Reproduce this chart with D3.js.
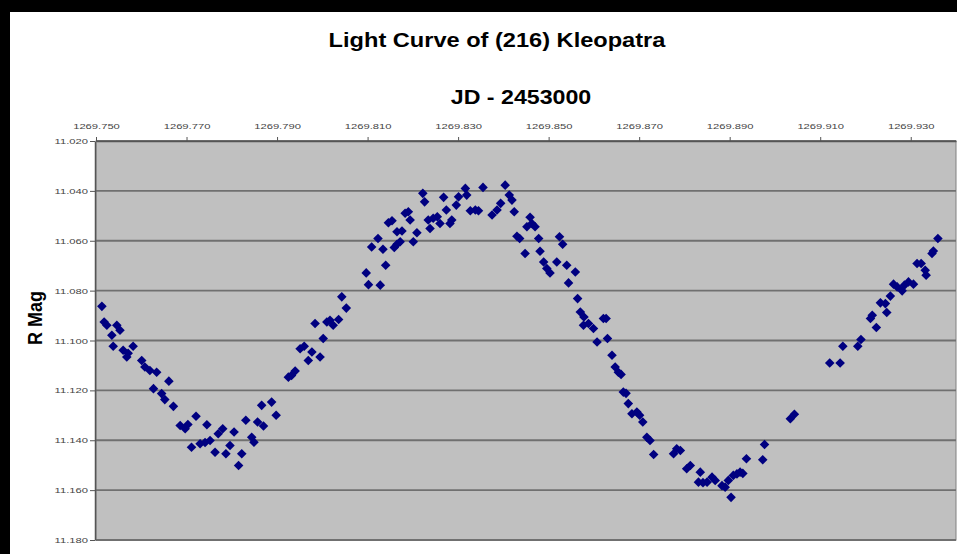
<!DOCTYPE html>
<html>
<head>
<meta charset="utf-8">
<script src="https://cdn.jsdelivr.net/npm/d3@7"></script>
<style>
  html, body { margin: 0; padding: 0; background: #000; }
  svg { display: block; }
  text { font-family: "Liberation Sans", Arial, sans-serif; }
</style>
</head>
<body>
<svg id="chart" width="957" height="554"></svg>
<script>
// ---- data ----
const titleText = "Light Curve of (216) Kleopatra";
const xTitle = "JD - 2453000";
const yTitle = "R Mag";

const xTicks = [1269.75, 1269.77, 1269.79, 1269.81, 1269.83, 1269.85, 1269.87, 1269.89, 1269.91, 1269.93];
const yTicks = [11.02, 11.04, 11.06, 11.08, 11.10, 11.12, 11.14, 11.16, 11.18];

const jd = [
1269.7513,1269.7518,1269.7524,1269.7535,1269.7538,1269.7546,1269.7553,1269.7560,1269.7568,1269.7571,
1269.7582,1269.7601,1269.7608,1269.7619,1269.7634,1269.7627,1269.7645,1269.7652,1269.7661,1269.7671,
1269.7686,1269.7697,1269.7703,1269.7711,1269.7721,1269.7730,1269.7741,1269.7745,1269.7752,1269.7763,
1269.7770,1269.7780,1269.7787,1269.7796,1269.7805,1269.7815,1269.7822,1269.7831,1269.7844,1269.7849,
1269.7857,1269.7866,1269.7870,1269.7888,1269.7898,1269.7925,1269.7932,1269.7940,1269.7951,1269.7960,
1269.7969,1269.7977,1269.7995,1269.8002,1269.7984,1269.8010,1269.8017,1269.8024,1269.8036,1269.8043,
1269.8053,1269.8097,1269.8102,1269.8128,1269.8140,1269.8109,1269.8123,1269.8134,1269.8146,1269.8154,
1269.8159,1269.8165,1269.8172,1269.8165,1269.8176,1269.8183,1269.8190,1269.8194,1269.8201,1269.8209,
1269.8222,1269.8226,1269.8234,1269.8238,1269.8245,1269.8254,1269.8260,1269.8268,1269.8274,1269.8282,
1269.8286,1269.8296,1269.8301,1269.8316,1269.8319,1269.8327,1269.8338,1269.8345,1269.8355,1269.8375,
1269.8386,1269.8394,1269.8404,1269.8413,1269.8419,1269.8424,1269.8430,1269.8436,1269.8448,1269.8459,
1269.8463,1269.8452,1269.8470,1269.8478,1269.8481,1269.8489,1269.8496,1269.8503,1269.8518,1269.8524,
1269.8531,1269.8540,1269.8544,1269.8559,1269.8564,1269.8570,1269.8578,1269.8577,1269.8588,1269.8599,
1269.8621,1269.8627,1269.8607,1269.8630,1269.8640,1269.8647,1269.8654,1269.8660,1269.8665,1269.8671,
1269.8676,1269.8684,1269.8695,1269.8701,1269.8708,1269.8717,1269.8724,1269.8732,1269.8776,1269.8783,
1269.8791,1269.8805,1269.8813,1269.8831,1269.8835,1269.8841,1269.8850,1269.8861,1269.8868,1269.8883,
1269.8890,1269.8903,1269.8897,1269.8908,1269.8916,1269.8923,1269.8929,1269.8937,1269.8973,1269.8977,
1269.9034,1269.9043,1269.9121,1269.9144,1269.9150,1269.9183,1269.9190,1269.9211,1269.9215,1269.9224,
1269.9233,1269.9244,1269.9247,1269.9255,1269.9262,1269.9270,1269.9281,1269.9286,1269.9295,1269.9306,
1269.9314,1269.9323,1269.9334,1269.9332,1269.9347,1269.9350,1269.9360];

const rmag = [
11.0863,11.0926,11.0939,11.0979,11.1023,11.0939,11.0959,11.1039,11.1066,11.1051,
11.1023,11.1080,11.1106,11.1120,11.1127,11.1193,11.1213,11.1237,11.1163,11.1264,
11.1341,11.1354,11.1337,11.1428,11.1304,11.1414,11.1409,11.1338,11.1401,11.1448,
11.1374,11.1354,11.1454,11.1421,11.1367,11.1501,11.1454,11.1320,11.1388,11.1408,
11.1327,11.1260,11.1343,11.1247,11.1300,11.1147,11.1140,11.1122,11.1033,11.1023,
11.1080,11.1046,11.1066,11.0992,11.0932,11.0926,11.0919,11.0939,11.0916,11.0825,
11.0870,11.0729,11.0776,11.0778,11.0698,11.0625,11.0591,11.0634,11.0528,11.0520,
11.0627,11.0614,11.0604,11.0564,11.0561,11.0490,11.0484,11.0517,11.0604,11.0568,
11.0410,11.0444,11.0517,11.0551,11.0510,11.0504,11.0531,11.0426,11.0477,11.0531,
11.0517,11.0457,11.0424,11.0390,11.0417,11.0480,11.0477,11.0480,11.0386,11.0497,
11.0477,11.0450,11.0377,11.0417,11.0437,11.0484,11.0582,11.0591,11.0651,11.0506,
11.0531,11.0544,11.0544,11.0591,11.0642,11.0685,11.0711,11.0729,11.0685,11.0584,
11.0614,11.0698,11.0769,11.0725,11.0832,11.0886,11.0906,11.0939,11.0932,11.0952,
11.0912,11.0912,11.1006,11.0992,11.1059,11.1106,11.1127,11.1136,11.1207,11.1212,
11.1253,11.1294,11.1287,11.1300,11.1327,11.1388,11.1401,11.1457,11.1454,11.1434,
11.1441,11.1514,11.1501,11.1568,11.1528,11.1570,11.1568,11.1548,11.1561,11.1582,
11.1588,11.1629,11.1561,11.1541,11.1535,11.1528,11.1533,11.1474,11.1478,11.1417,
11.1314,11.1296,11.1090,11.1090,11.1023,11.1023,11.0996,11.0912,11.0899,11.0948,
11.0849,11.0852,11.0888,11.0822,11.0774,11.0785,11.0801,11.0778,11.0765,11.0774,
11.0691,11.0691,11.0738,11.0718,11.0651,11.0641,11.0591];

// ---- layout ----
const W = 957, H = 554;
const plot = { left: 96, top: 141, right: 956, bottom: 540 };
const svg = d3.select("#chart");

svg.append("rect").attr("x", 0).attr("y", 0).attr("width", W).attr("height", H).attr("fill", "#000");
svg.append("rect").attr("x", 10).attr("y", 12).attr("width", W - 10).attr("height", H - 12).attr("fill", "#fff");

const x = d3.scaleLinear().domain([1269.75, 1269.94]).range([plot.left, plot.right]);
const y = d3.scaleLinear().domain([11.02, 11.18]).range([plot.top, plot.bottom]);

// plot area
svg.append("rect")
  .attr("x", plot.left).attr("y", plot.top)
  .attr("width", plot.right - plot.left).attr("height", plot.bottom - plot.top)
  .attr("fill", "#c0c0c0").attr("stroke", "#808080").attr("stroke-width", 1);

// gridlines
svg.append("g").selectAll("line").data(yTicks).join("line")
  .attr("x1", plot.left).attr("x2", plot.right)
  .attr("y1", d => y(d)).attr("y2", d => y(d))
  .attr("stroke", "#707070").attr("stroke-width", 1.8);

// axes
const xAxis = svg.append("g").attr("transform", `translate(0,${plot.top})`)
  .call(d3.axisTop(x).tickValues(xTicks).tickSize(4).tickSizeOuter(0).tickFormat(d3.format(".3f")));
xAxis.select(".domain").attr("stroke", "#555").attr("stroke-width", 1.5);
xAxis.selectAll(".tick line").attr("stroke", "#555");
xAxis.selectAll(".tick text")
  .attr("y", -12).attr("fill", "#444")
  .style("font-size", "8px")
  .attr("transform", "scale(1.4,1)");

const yAxis = svg.append("g").attr("transform", `translate(${plot.left - 1},0)`)
  .call(d3.axisLeft(y).tickValues(yTicks).tickSize(5).tickSizeOuter(0).tickFormat(d3.format(".3f")));
yAxis.select(".domain").attr("stroke", "#555").attr("stroke-width", 1.5);
yAxis.selectAll(".tick line").attr("stroke", "#555");
yAxis.selectAll(".tick text")
  .attr("x", -5).attr("fill", "#444")
  .style("font-size", "8px")
  .attr("transform", "scale(1.4,1)");

// points
const pts = jd.map((v, i) => ({ jd: v, mag: rmag[i] }));
const sym = d3.symbol().type(d3.symbolSquare).size(46);
svg.append("g").selectAll("path").data(pts).join("path")
  .attr("d", sym)
  .attr("transform", d => `translate(${x(d.jd)},${y(d.mag)}) rotate(45)`)
  .attr("fill", "#000080");

// titles
svg.append("text")
  .attr("transform", "translate(497,47) scale(1.18,1)")
  .attr("text-anchor", "middle")
  .style("font-size", "20px").style("font-weight", "bold")
  .text(titleText);

svg.append("text")
  .attr("transform", "translate(521,104) scale(1.16,1)")
  .attr("text-anchor", "middle")
  .style("font-size", "20px").style("font-weight", "bold")
  .text(xTitle);

svg.append("text")
  .attr("transform", "translate(42,318) scale(1.17,1) rotate(-90)")
  .attr("text-anchor", "middle")
  .style("font-size", "18px").style("font-weight", "bold")
  .text(yTitle);
</script>
</body>
</html>
